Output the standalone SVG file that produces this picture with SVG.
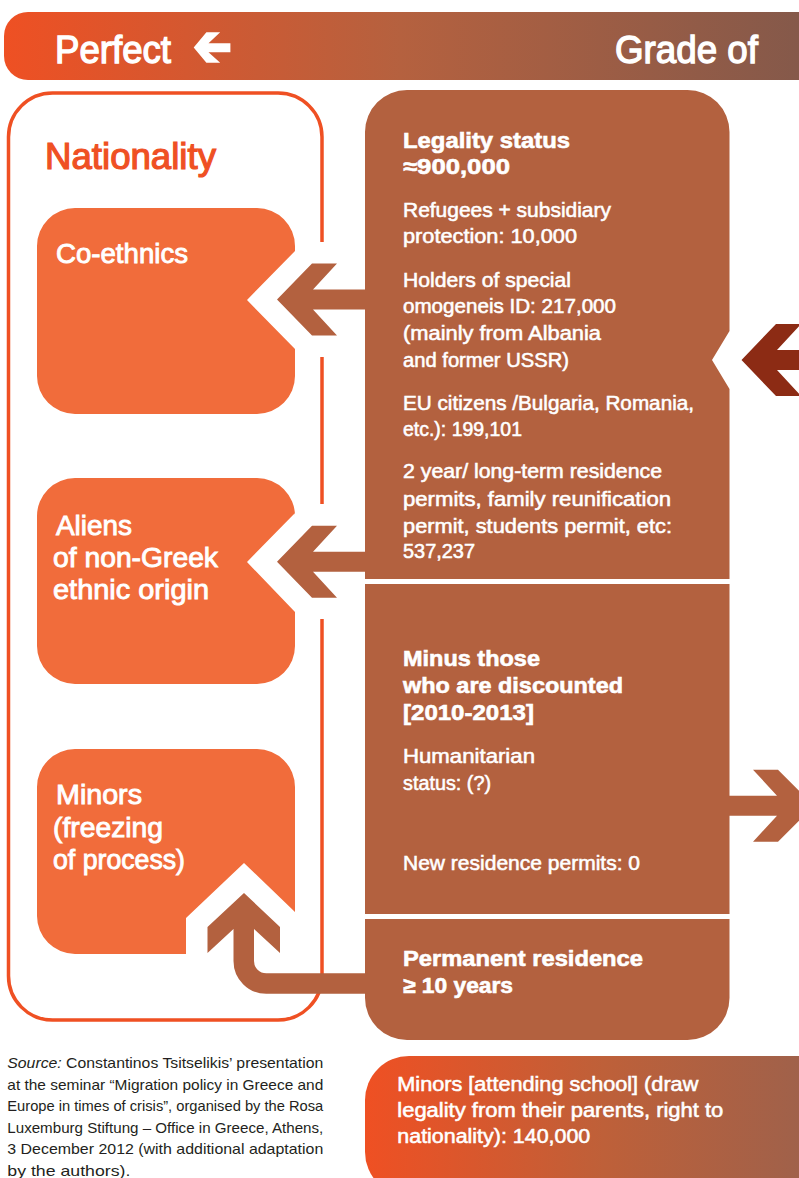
<svg xmlns="http://www.w3.org/2000/svg" width="799" height="1178" viewBox="0 0 799 1178">
<defs>
<linearGradient id="gHead" gradientUnits="userSpaceOnUse" x1="0" y1="0" x2="799" y2="0">
<stop offset="0" stop-color="#EF5023"/>
<stop offset="0.5" stop-color="#B5613F"/>
<stop offset="1" stop-color="#85594A"/>
</linearGradient>
<linearGradient id="gMinors" gradientUnits="userSpaceOnUse" x1="365" y1="0" x2="799" y2="0">
<stop offset="0" stop-color="#EF5023"/>
<stop offset="0.55" stop-color="#BE6039"/>
<stop offset="1" stop-color="#A0614A"/>
</linearGradient>
</defs>
<style>
text{font-family:"Liberation Sans",Arial,sans-serif;font-weight:400;fill:#fff}
.hd{font-size:38px;stroke:#fff;stroke-width:1.3px}
.nat{font-size:36px;fill:#EF5023;stroke:#EF5023;stroke-width:1.2px}
.lab{font-size:28px;stroke:#fff;stroke-width:0.9px}
.ttl{font-size:22px;font-weight:700;stroke:#fff;stroke-width:0.6px}
.bd{font-size:20px;stroke:#fff;stroke-width:0.55px}
.src{font-size:14.5px;fill:#231F20}
.orange{fill:#F16C3B}
.brown{fill:#B3613F}
.dark{fill:#8C2B14}
</style>
<rect width="799" height="1178" fill="#fff"/>

<g id="header">
<path d="M28,12 H799 V80 H28 A24,24 0 0 1 4,56 V36 A24,24 0 0 1 28,12 Z" fill="url(#gHead)"/>
<text class="hd" x="55" y="62.7" textLength="116" lengthAdjust="spacingAndGlyphs">Perfect</text>
<polygon points="193.7,47.5 206.4,32.3 220.2,32.3 208.5,43.3 230.4,43.3 230.4,52.3 208.5,52.3 220.2,62.7 206.4,62.7" fill="#fff"/>
<text class="hd" x="615" y="62.7" textLength="143" lengthAdjust="spacingAndGlyphs">Grade of</text>
</g>

<g id="nationality-panel">
<path d="M322,242 V137 A44,44 0 0 0 278,93 H52.5 A44,44 0 0 0 8.5,137 V976 A44,44 0 0 0 52.5,1020 H278 A44,44 0 0 0 322,976 V619 M322,504 V357" fill="none" stroke="#EF5023" stroke-width="3.5"/>
<text class="nat" x="45" y="169.3" textLength="171" lengthAdjust="spacingAndGlyphs">Nationality</text>
</g>

<g id="node-coethnics">
<path class="orange" d="M75,208 H257 A38,38 0 0 1 295,246 V251 L247,300 L295,349 V376 A38,38 0 0 1 257,414 H75 A38,38 0 0 1 37,376 V246 A38,38 0 0 1 75,208 Z"/>
<text class="lab" x="56" y="263.3" textLength="132" lengthAdjust="spacingAndGlyphs">Co-ethnics</text>
</g>

<g id="node-aliens">
<path class="orange" d="M75,478 H257 A38,38 0 0 1 295,516 V513 L247,562 L295,612 V646 A38,38 0 0 1 257,684 H75 A38,38 0 0 1 37,646 V516 A38,38 0 0 1 75,478 Z"/>
<text class="lab" x="56" y="535" textLength="76" lengthAdjust="spacingAndGlyphs">Aliens</text>
<text class="lab" x="53" y="567" textLength="165" lengthAdjust="spacingAndGlyphs">of non-Greek</text>
<text class="lab" x="53" y="598.5" textLength="156" lengthAdjust="spacingAndGlyphs">ethnic origin</text>
</g>

<g id="node-minors">
<path class="orange" d="M75,749 H257 A38,38 0 0 1 295,787 V912 L244,863 L186,918 V954 H75 A38,38 0 0 1 37,916 V787 A38,38 0 0 1 75,749 Z"/>
<text class="lab" x="56" y="804" textLength="86" lengthAdjust="spacingAndGlyphs">Minors</text>
<text class="lab" x="53" y="836.5" textLength="110" lengthAdjust="spacingAndGlyphs">(freezing</text>
<text class="lab" x="53" y="868.5" textLength="132" lengthAdjust="spacingAndGlyphs">of process)</text>
</g>

<g id="node-legality">
<path class="brown" d="M407,90 H687.5 A42,42 0 0 1 729.5,132 V331 L712,360 L729.5,389 V579 H365 V132 A42,42 0 0 1 407,90 Z"/>
<text class="ttl" x="403" y="148.3" textLength="167" lengthAdjust="spacingAndGlyphs">Legality status</text>
<text class="ttl" x="403" y="174.3" textLength="107" lengthAdjust="spacingAndGlyphs">≈900,000</text>
<text class="bd" x="403" y="217.3" textLength="208" lengthAdjust="spacingAndGlyphs">Refugees + subsidiary</text>
<text class="bd" x="403" y="243.3" textLength="174" lengthAdjust="spacingAndGlyphs">protection: 10,000</text>
<text class="bd" x="403" y="286.7" textLength="168" lengthAdjust="spacingAndGlyphs">Holders of special</text>
<text class="bd" x="403" y="313.3" textLength="213" lengthAdjust="spacingAndGlyphs">omogeneis ID: 217,000</text>
<text class="bd" x="403" y="340" textLength="198" lengthAdjust="spacingAndGlyphs">(mainly from Albania</text>
<text class="bd" x="403" y="366.7" textLength="166" lengthAdjust="spacingAndGlyphs">and former USSR)</text>
<text class="bd" x="403" y="410" textLength="291" lengthAdjust="spacingAndGlyphs">EU citizens /Bulgaria, Romania,</text>
<text class="bd" x="403" y="436" textLength="119" lengthAdjust="spacingAndGlyphs">etc.): 199,101</text>
<text class="bd" x="403" y="478.3" textLength="259" lengthAdjust="spacingAndGlyphs">2 year/ long-term residence</text>
<text class="bd" x="403" y="506" textLength="268" lengthAdjust="spacingAndGlyphs">permits, family reunification</text>
<text class="bd" x="403" y="532.7" textLength="269" lengthAdjust="spacingAndGlyphs">permit, students permit, etc:</text>
<text class="bd" x="403" y="558.3" textLength="72" lengthAdjust="spacingAndGlyphs">537,237</text>
</g>

<g id="node-minus">
<rect class="brown" x="365" y="584" width="364.5" height="330"/>
<text class="ttl" x="403" y="666" textLength="137" lengthAdjust="spacingAndGlyphs">Minus those</text>
<text class="ttl" x="403" y="693.3" textLength="220" lengthAdjust="spacingAndGlyphs">who are discounted</text>
<text class="ttl" x="403" y="720" textLength="131" lengthAdjust="spacingAndGlyphs">[2010-2013]</text>
<text class="bd" x="403" y="763.3" textLength="132" lengthAdjust="spacingAndGlyphs">Humanitarian</text>
<text class="bd" x="403" y="790" textLength="88" lengthAdjust="spacingAndGlyphs">status: (?)</text>
<text class="bd" x="403" y="870" textLength="237" lengthAdjust="spacingAndGlyphs">New residence permits: 0</text>
</g>

<g id="node-permanent">
<path class="brown" d="M365,919 H729.5 V998 A42,42 0 0 1 687.5,1040 H407 A42,42 0 0 1 365,998 Z"/>
<text class="ttl" x="403" y="966" textLength="240" lengthAdjust="spacingAndGlyphs">Permanent residence</text>
<text class="ttl" x="403" y="993.3" textLength="110" lengthAdjust="spacingAndGlyphs">≥ 10 years</text>
</g>

<g id="node-minors-school">
<path d="M409,1056 H799 V1196 H409 A44,44 0 0 1 365,1152 V1100 A44,44 0 0 1 409,1056 Z" fill="url(#gMinors)"/>
<text class="bd" x="397.3" y="1090.7" textLength="301" lengthAdjust="spacingAndGlyphs">Minors [attending school] (draw</text>
<text class="bd" x="397.3" y="1117.3" textLength="326" lengthAdjust="spacingAndGlyphs">legality from their parents, right to</text>
<text class="bd" x="397.3" y="1142.7" textLength="193" lengthAdjust="spacingAndGlyphs">nationality): 140,000</text>
</g>

<g id="source">
<text class="src" x="7.3" y="1068" textLength="316" lengthAdjust="spacingAndGlyphs"><tspan font-style="italic">Source:</tspan> Constantinos Tsitselikis’ presentation</text>
<text class="src" x="7.3" y="1089.5" textLength="316" lengthAdjust="spacingAndGlyphs">at the seminar “Migration policy in Greece and</text>
<text class="src" x="7.3" y="1111" textLength="316" lengthAdjust="spacingAndGlyphs">Europe in times of crisis”, organised by the Rosa</text>
<text class="src" x="7.3" y="1132.5" textLength="316" lengthAdjust="spacingAndGlyphs">Luxemburg Stiftung – Office in Greece, Athens,</text>
<text class="src" x="7.3" y="1154" textLength="316" lengthAdjust="spacingAndGlyphs">3 December 2012 (with additional adaptation</text>
<text class="src" x="7.3" y="1175.5" textLength="123" lengthAdjust="spacingAndGlyphs">by the authors).</text>
</g>

<g id="connectors">
<polygon class="brown" points="277,299.5 312,263.5 337,263.5 313,289.5 366,289.5 366,309.5 313,309.5 337,335.5 312,335.5"/>
<polygon class="brown" points="277,561.7 312,525.7 337,525.7 313,551.7 366,551.7 366,571.7 313,571.7 337,597.7 312,597.7"/>
<polygon class="brown" points="244,893 280,927 280,953 254,929 233.5,929 207.5,953 207.5,927"/>
<path d="M243.75,928 V961 A22.5,22.5 0 0 0 266.25,983.5 H368" fill="none" stroke="#B3613F" stroke-width="20.5"/>
<polygon class="brown" points="728,795.7 777,795.7 753,769.7 778,769.7 814,805.7 778,841.7 753,841.7 777,815.7 728,815.7"/>
<polygon class="dark" points="741.5,360 776,324 801,324 777,350 810,350 810,370 777,370 801,396 776,396"/>
</g>
</svg>
